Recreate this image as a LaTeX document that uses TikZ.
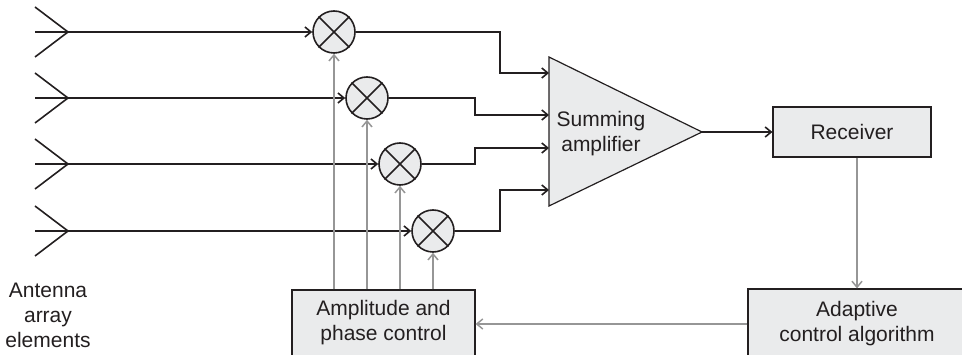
\documentclass[tikz,border=0pt]{standalone}
\usepackage{fontspec}
\setmainfont{Liberation Sans}
\usetikzlibrary{arrows.meta}
\definecolor{ink}{RGB}{35,31,32}
\definecolor{boxfill}{RGB}{234,235,236}
\definecolor{ctlgray}{RGB}{150,150,150}

\begin{document}
\begin{tikzpicture}[x=1pt,y=-1pt]
\tikzstyle{every node}=[font=\fontsize{21}{25}\selectfont,text=ink];
\tikzstyle{mixer}=[draw=ink,fill=boxfill,line width=1.6pt,shape=circle,minimum size=42pt,inner sep=0pt];
\tikzstyle{block}=[draw=ink,fill=boxfill,line width=1.2pt,align=center,inner sep=0pt];
\tikzstyle{sig}=[draw=ink,line width=1.6pt,-{Straight Barb[length=6pt,width=10pt]}];
\tikzstyle{ctl}=[draw=ctlgray,line width=1.5pt,-{Straight Barb[length=6pt,width=10pt]}];
\useasboundingbox (0,0) rectangle (962,355);

% antenna elements
\foreach \i/\y in {1/32,2/98,3/164,4/231} {
	\draw[ink,line width=1.6pt] (35,\y-25) -- (68,\y) -- (35,\y+25);
	\coordinate (ant\i) at (35,\y);
}
\node[align=center] (lbl) at (48,315) {Antenna\\array\\elements};

% mixers
\node[mixer] (m1) at (334,32) {};
\node[mixer] (m2) at (367,98) {};
\node[mixer] (m3) at (400,164) {};
\node[mixer] (m4) at (433,231) {};
\foreach \i in {1,...,4} {
	\draw[ink,line width=1.6pt] (m\i.north west) -- (m\i.south east)
		(m\i.north east) -- (m\i.south west);
	\draw[sig] (ant\i) -- (m\i.west);
}

% summing amplifier
\draw[ink,fill=boxfill,line width=1.2pt] (549,57) -- (702,132) -- (549,206) -- cycle;
\node[align=center] (sum) at (601,134) {Summing\\amplifier};
\coordinate (tip) at (702,132);
\coordinate (s1) at (549,73);
\coordinate (s2) at (549,115);
\coordinate (s3) at (549,148);
\coordinate (s4) at (549,190);

\draw[sig] (m1.east) -- (500,32) |- (s1);
\draw[sig] (m2.east) -- (475,98) |- (s2);
\draw[sig] (m3.east) -- (475,164) |- (s3);
\draw[sig] (m4.east) -- (500,231) |- (s4);

% receiver and control loop
\node[block,minimum width=158pt,minimum height=50pt] (rx) at (852,132) {Receiver};
\node[block,minimum width=218pt,minimum height=70pt] (alg) at (857,324) {Adaptive\\control algorithm};
\node[block,minimum width=183pt,minimum height=66pt] (apc) at (383.5,323) {Amplitude and\\phase control};

\draw[sig] (tip) -- (tip -| rx.west);
\draw[ctl] (alg.north |- rx.south) -- (alg.north);
\draw[ctl] (alg.west) -- (alg.west -| apc.east);
\foreach \i in {1,...,4}
	\draw[ctl] (m\i |- apc.north) -- (m\i.south);
\end{tikzpicture}
\end{document}
